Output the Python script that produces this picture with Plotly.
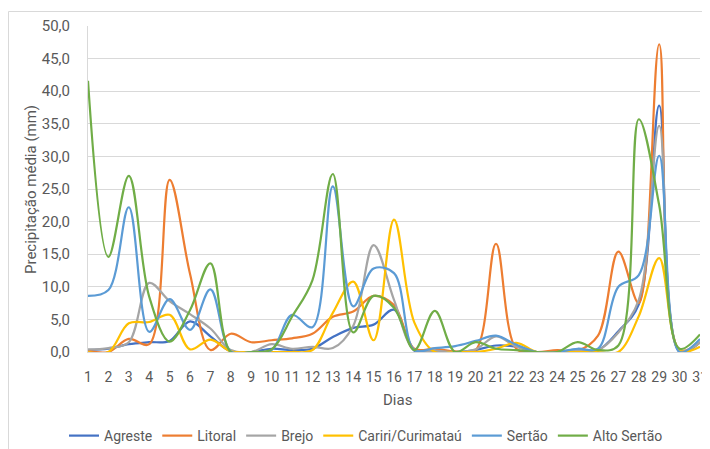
import plotly.graph_objects as go

dias = list(range(1, 32))
tick_labels = [str(d) for d in dias]

agreste = [0.3, 0.5, 1.2, 1.5, 1.7, 4.7, 2.4, 0.1, 0.0, 0.5, 0.3, 0.5, 2.3, 3.7, 4.2, 6.5, 0.2, 0.1, 0.0, 0.3, 1.0, 0.8, 0.0, 0.0, 0.4, 0.3, 3.2, 7.3, 37.8, 0.0, 1.5]
litoral = [0.2, 0.0, 2.0, 1.2, 26.4, 12.0, 0.3, 2.8, 1.5, 1.8, 2.1, 2.8, 5.4, 6.2, 8.6, 7.2, 0.5, 0.5, 0.1, 0.3, 16.6, 0.5, 0.0, 0.3, 0.2, 2.5, 15.4, 7.5, 47.2, 0.3, 1.5]
brejo = [0.4, 0.6, 1.5, 10.6, 7.8, 5.8, 3.6, 0.3, 0.0, 1.2, 0.5, 0.8, 0.6, 4.0, 16.4, 8.0, 0.3, 0.2, 0.0, 0.4, 2.4, 0.8, 0.0, 0.0, 0.3, 0.3, 3.0, 8.0, 34.7, 0.2, 1.5]
cariri = [0.0, 0.0, 4.4, 4.6, 5.7, 0.4, 1.9, 0.1, 0.0, 0.0, 0.0, 0.3, 6.0, 10.8, 1.8, 20.3, 4.5, 0.0, 0.0, 0.0, 0.5, 1.4, 0.0, 0.0, 0.0, 0.0, 0.0, 5.5, 14.4, 0.2, 0.8]
sertao = [8.6, 9.5, 22.2, 3.1, 8.1, 3.4, 9.6, 0.1, 0.0, 0.3, 5.7, 3.8, 25.4, 7.0, 12.8, 12.1, 0.3, 0.6, 0.9, 1.7, 2.5, 1.1, 0.0, 0.0, 0.5, 0.5, 10.0, 11.8, 30.1, 0.0, 2.0]
alto_sertao = [41.6, 14.6, 27.0, 8.5, 1.6, 6.4, 13.6, 0.0, 0.0, 0.4, 5.4, 11.0, 27.3, 3.0, 8.6, 6.8, 0.3, 6.3, 0.0, 1.5, 0.5, 0.3, 0.0, 0.0, 1.5, 0.3, 1.0, 35.7, 22.5, 0.5, 2.7]

series_names = ["Agreste", "Litoral", "Brejo", "Cariri/Curimataú", "Sertão", "Alto Sertão"]
series_values = [agreste, litoral, brejo, cariri, sertao, alto_sertao]
series_colors = ["#4472C4", "#ED7D31", "#A5A5A5", "#FFC000", "#5B9BD5", "#70AD47"]

FONT = "Roboto, Liberation Sans, sans-serif"
TXT = "#595959"
GRID = "#D9D9D9"

fig = go.Figure()
for name, vals, col in zip(series_names, series_values, series_colors):
    fig.add_trace(go.Scatter(
        x=dias, y=vals, name=name, mode="lines",
        line=dict(color=col, width=2.2, shape="spline", smoothing=1.0),
    ))

# page body has an 8px margin: work in screen pixels, then offset
OFF = 8
W, H = 710 - OFF, 449 - OFF
L, R, T, B = 88 - OFF, 700 - OFF, 26 - OFF, 352 - OFF
pw, ph = R - L, B - T

def px_x(p):
    return (p - OFF - L) / pw

def px_y(p):
    return (B - (p - OFF)) / ph

fig.update_layout(
    width=W, height=H,
    margin=dict(l=L, r=W - R, t=T, b=H - B, autoexpand=False),
    paper_bgcolor="white", plot_bgcolor="white",
    separators=",.",
    font=dict(family=FONT, color=TXT, size=14),
    showlegend=True,
    legend=dict(orientation="h", x=px_x(366), xanchor="center",
                y=px_y(436), yanchor="middle",
                font=dict(family=FONT, size=14, color=TXT),
                itemwidth=30, tracegroupgap=0, bgcolor="rgba(0,0,0,0)"),
    xaxis=dict(range=[1, 31], tickmode="array", tickvals=dias, ticktext=tick_labels,
               showgrid=False, zeroline=False, showline=True, linecolor=GRID, linewidth=1,
               ticks="", tickangle=0, automargin=False, ticklabeloverflow="allow",
               tickfont=dict(family=FONT, size=14, color=TXT),
               ticklabelstandoff=12),
    yaxis=dict(range=[0, 50], dtick=5, tickformat=".1f", automargin=False,
               showgrid=True, gridcolor=GRID, gridwidth=1, zeroline=False,
               showline=True, linecolor=GRID, linewidth=1,
               ticks="", tickfont=dict(family=FONT, size=15, color=TXT),
               ticklabelstandoff=14),
    annotations=[
        dict(text="Precipitação média (mm)", x=px_x(31), y=px_y(190), xref="paper", yref="paper",
             textangle=-90, showarrow=False, font=dict(family=FONT, size=15, color=TXT),
             xanchor="center", yanchor="middle"),
        dict(text="Dias", x=px_x(397), y=px_y(400), xref="paper", yref="paper",
             showarrow=False, font=dict(family=FONT, size=15, color=TXT),
             xanchor="center", yanchor="middle"),
    ],
    shapes=[
        dict(type="rect", xref="paper", yref="paper",
             x0=px_x(8.5), x1=px_x(740), y0=px_y(480), y1=px_y(11.5),
             line=dict(color=GRID, width=1), fillcolor="rgba(0,0,0,0)", layer="below"),
    ],
)

fig.write_html("out.html")
